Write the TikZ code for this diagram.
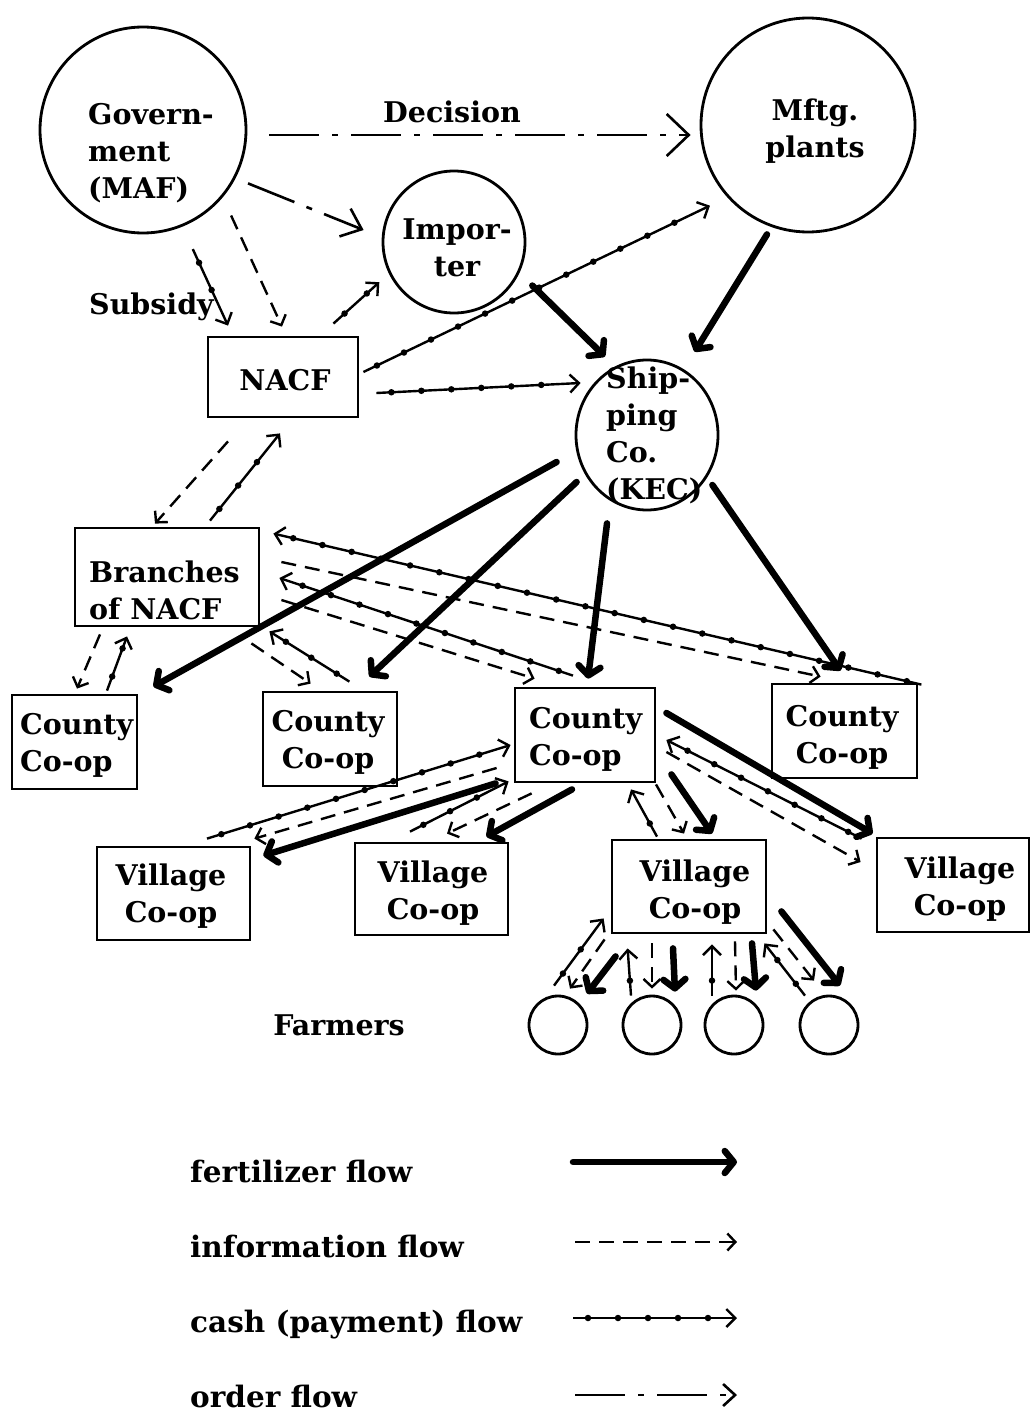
\documentclass[tikz,border=0pt]{standalone}
\usepackage{fontspec}
\setmainfont{DejaVu Serif}
\usetikzlibrary{arrows.meta,shapes.geometric}
\begin{document}
\begin{tikzpicture}[x=1pt,y=-1pt,
  circ/.style={circle, draw, line width=2.8pt, inner sep=0pt},
  box/.style={rectangle, draw, line width=2.8pt, inner sep=0pt},
  txt/.style={inner sep=0pt, font=\bfseries\fontsize{28.5pt}{37pt}\selectfont},
  lgd/.style={inner sep=0pt, anchor=west, font=\bfseries\fontsize{29.5pt}{38pt}\selectfont},
  fert/.style={line width=6.5pt, line cap=round, -{Straight Barb[round,length=9pt,width=22pt]}},
  info/.style={line width=2.4pt, dash pattern=on 15pt off 9pt, -{Straight Barb[length=8pt,width=17pt]}},
  cash/.style={line width=2.4pt, -{Straight Barb[length=9pt,width=18pt]},
     postaction={draw, arrows=-, line width=6.5pt, line cap=round, dash pattern=on 0pt off 30pt, dash phase=15pt, shorten >=10pt}},
  order/.style={line width=2.6pt, dash pattern=on 50pt off 13pt on 6pt off 13pt, -{Straight Barb[length=12pt,width=22pt]}}
]
\fill[white] (0,0) rectangle (1031,1418);
\useasboundingbox (0,0) rectangle (1031,1418);

% shapes
\node[circ, minimum size=206pt] (gov) at (143,130) {};
\node[circ, minimum size=214pt] (mftg) at (808,125) {};
\node[circ, minimum size=142pt] (imp) at (454,242) {};
\node[ellipse, draw, line width=2.8pt, inner sep=0pt, minimum width=142pt, minimum height=150pt] (ship) at (647,435) {};
\node[box, minimum width=150pt, minimum height=80pt] (nacf) at (283,377) {};
\node[box, minimum width=184pt, minimum height=98pt] (br) at (167,577) {};
\node[box, minimum width=125pt, minimum height=94pt] (c1) at (74.5,742) {};
\node[box, minimum width=134pt, minimum height=94pt] (c2) at (330,739) {};
\node[box, minimum width=140pt, minimum height=94pt] (c3) at (585,735) {};
\node[box, minimum width=145pt, minimum height=94pt] (c4) at (844.5,731) {};
\node[box, minimum width=153pt, minimum height=93pt] (v1) at (173.5,893.5) {};
\node[box, minimum width=153pt, minimum height=92pt] (v2) at (431.5,889) {};
\node[box, minimum width=154pt, minimum height=93pt] (v3) at (689,886.5) {};
\node[box, minimum width=152pt, minimum height=94pt] (v4) at (953,885) {};
\node[circ, minimum size=58pt] (f1) at (558,1025) {};
\node[circ, minimum size=58pt] (f2) at (652,1025) {};
\node[circ, minimum size=58pt] (f3) at (734,1025) {};
\node[circ, minimum size=58pt] (f4) at (829,1025) {};

% texts
\node[txt, anchor=west, align=left] (govt) at (88,153) {Govern-\\ment\\(MAF)};
\node[txt, align=center] (mftgt) at (815,131) {Mftg.\\plants};
\node[txt, align=center] (impt) at (457,248) {Impor-\\ter};
\node[txt] (nacft) at (285,380) {NACF};
\node[txt, anchor=west, align=left] (shipt) at (606,435) {Ship-\\ping\\Co.\\(KEC)};
\node[txt, anchor=west, align=left] (brt) at (89,590) {Branches\\of NACF};
\node[txt, anchor=west, align=left] (c1t) at (20,745) {County\\Co-op};
\node[txt, align=center] (c2t) at (328,742) {County\\Co-op};
\node[txt, anchor=west, align=left] (c3t) at (529,739) {County\\Co-op};
\node[txt, align=center] (c4t) at (842,737) {County\\Co-op};
\node[txt, align=center] (v1t) at (171,896) {Village\\Co-op};
\node[txt, align=center] (v2t) at (433,893) {Village\\Co-op};
\node[txt, align=center] (v3t) at (695,892) {Village\\Co-op};
\node[txt, align=center] (v4t) at (960,889) {Village\\Co-op};
\node[txt] (dec) at (452,112) {Decision};
\node[txt, anchor=west] (sub) at (89,307) {Subsidy};
\node[txt] (farm) at (339,1025) {Farmers};

% top connectors
\draw[order, -{Straight Barb[length=22pt,width=42pt]}] ([shift={(22,5)}]gov.east) -- ([shift={(-9,10)}]mftg.west);
\draw[order, -{Straight Barb[length=18pt,width=30pt]}] ([shift={(12,6)}]gov.-27) -- ([shift={(-18,-12)}]imp.west);
\draw[info] ([shift={(13,13)}]gov.-44) -- ([shift={(-1,-9)}]nacf.north);
\draw[cash] ([shift={(9,23)}]gov.-67) -- ([shift={(-55,-10)}]nacf.north);
\draw[cash] ([shift={(-26,-12)}]nacf.north east) -- ([shift={(-12,4)}]imp.-150);
\draw[cash] ([shift={(4,-5)}]nacf.east) -- ([shift={(-15,11)}]mftg.-140);
\draw[cash] ([shift={(17,16)}]nacf.east) -- ([shift={(6,-52)}]ship.west);
\draw[fert] ([shift={(19,2)}]imp.-35) -- ([shift={(1,-17)}]ship.125);
\draw[fert] ([shift={(-41,1)}]mftg.south) -- ([shift={(10,-18)}]ship.60);

% NACF - branches - county
\draw[info] ([shift={(-55,23)}]nacf.south) -- ([shift={(-12,-3)}]br.north);
\draw[cash] ([shift={(43,-6)}]br.north) -- ([shift={(-3,15)}]nacf.south);
\draw[info] ([shift={(-67,7)}]br.south) -- ([shift={(2.5,-5)}]c1.north);
\draw[cash] ([shift={(32.5,-3)}]c1.north) -- ([shift={(-40,9)}]br.south);
\draw[info] ([shift={(-9,16)}]br.south east) -- ([shift={(49,-7)}]c2.north west);
\draw[cash] ([shift={(-49,-9)}]c2.north east) -- ([shift={(9,4)}]br.south east);
\draw[cash] ([shift={(3,2)}]c4.north east) -- ([shift={(13,7)}]br.north east);
\draw[info] ([shift={(21,-15)}]br.east) -- ([shift={(50,-6)}]c4.north west);
\draw[cash] ([shift={(-12,-11)}]c3.north) -- ([shift={(19,1)}]br.east);
\draw[info] ([shift={(21,23)}]br.east) -- ([shift={(21,-8)}]c3.north west);

% shipping to counties
\draw[fert] ([shift={(-18,27)}]ship.west) -- ([shift={(15,-7)}]c1.north east);
\draw[fert] ([shift={(2,47)}]ship.west) -- ([shift={(-29,-14)}]c2.north east);
\draw[fert] ([shift={(-40,12)}]ship.south) -- ([shift={(3,-8)}]c3.north);
\draw[fert] ([shift={(-7,50)}]ship.east) -- ([shift={(-4,-12)}]c4.north);

% county 3 - villages
\draw[cash] ([shift={(33.5,-7)}]v1.north) -- ([shift={(-3,10)}]c3.west);
\draw[info] ([shift={(-17,33)}]c3.west) -- ([shift={(3,-7)}]v1.north east);
\draw[fert] ([shift={(-18,0)}]c3.south west) -- ([shift={(12,10)}]v1.north east);
\draw[cash] ([shift={(-21.5,-10)}]v2.north) -- ([shift={(-5,-2)}]c3.south west);
\draw[info] ([shift={(18,10)}]c3.south west) -- ([shift={(15.5,-8)}]v2.north);
\draw[fert] ([shift={(-13,6)}]c3.south) -- ([shift={(-23,-5)}]v2.north east);
\draw[cash] ([shift={(-32,-2)}]v3.north) -- ([shift={(46,6)}]c3.south);
\draw[info] ([shift={(71,1)}]c3.south) -- ([shift={(-5,-5)}]v3.north);
\draw[fert] ([shift={(15,-9)}]c3.south east) -- ([shift={(23,-5)}]v3.north);
\draw[fert] ([shift={(10,-22)}]c3.east) -- ([shift={(-3,-3)}]v4.north west);
\draw[cash] ([shift={(-14,2)}]v4.north west) -- ([shift={(10,5)}]c3.east);
\draw[info] ([shift={(10,17)}]c3.east) -- ([shift={(-15,-23)}]v4.west);

% village 3 - farmers
\draw[cash] ([shift={(-4,-9)}]f1.north) -- ([shift={(-7,-16)}]v3.south west);
\draw[info] ([shift={(-6,5)}]v3.south west) -- ([shift={(12,-6)}]f1.north);
\draw[fert] ([shift={(5,22)}]v3.south west) -- ([shift={(29,-1)}]f1.north);
\draw[cash] ([shift={(-21,1)}]f2.north) -- ([shift={(17,14)}]v3.south west);
\draw[info] ([shift={(-37,9)}]v3.south) -- ([shift={(0,-6)}]f2.north);
\draw[fert] ([shift={(-16,14)}]v3.south) -- ([shift={(23,-3)}]f2.north);
\draw[cash] ([shift={(-22,1)}]f3.north) -- ([shift={(23,10)}]v3.south);
\draw[info] ([shift={(46,7)}]v3.south) -- ([shift={(2,-4)}]f3.north);
\draw[fert] ([shift={(63,9)}]v3.south) -- ([shift={(22,-4)}]f3.north);
\draw[cash] ([shift={(-24,1)}]f4.north) -- ([shift={(-3,9)}]v3.south east);
\draw[info] ([shift={(6,-5)}]v3.south east) -- ([shift={(-15,-14)}]f4.north);
\draw[fert] ([shift={(14,-23)}]v3.south east) -- ([shift={(11,-9)}]f4.north);

% legend
\node[lgd] (lg1) at (190,1171) {fertilizer flow};
\node[lgd] (lg2) at (190,1246) {information flow};
\node[lgd] (lg3) at (190,1325) {cash (payment) flow};
\node[lgd] (lg4) at (190,1396) {order flow};
\coordinate (a1) at (573,1162); \coordinate (b1) at (737,1162);
\coordinate (a2) at (575,1242); \coordinate (b2) at (737,1242);
\coordinate (a3) at (573,1318); \coordinate (b3) at (737,1318);
\coordinate (a4) at (575,1395); \coordinate (b4) at (737,1395);
\draw[fert] (a1) -- (b1);
\draw[info] (a2) -- (b2);
\draw[cash] (a3) -- (b3);
\draw[order] (a4) -- (b4);
\end{tikzpicture}
\end{document}
